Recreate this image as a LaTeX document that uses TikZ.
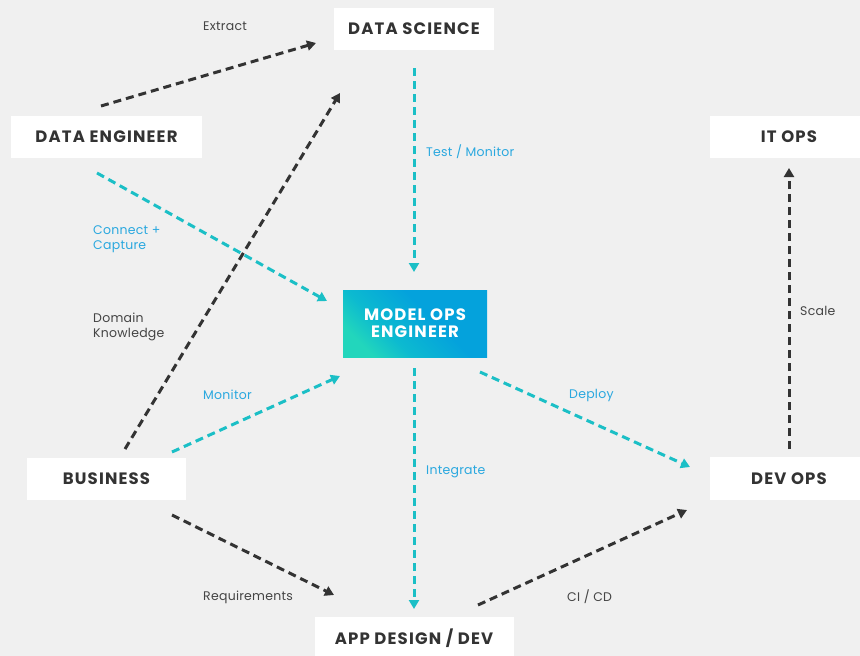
\documentclass[tikz,border=0pt]{standalone}
\usepackage{fontspec}
\setmainfont{Poppins}
\newfontfamily\boxfont[LetterSpace=7]{Poppins}
\newfontfamily\lblfont[LetterSpace=2]{Poppins}
\usetikzlibrary{arrows.meta}
\definecolor{bgc}{HTML}{F0F0F0}
\definecolor{darkc}{HTML}{333333}
\definecolor{lblc}{HTML}{444444}
\definecolor{tealc}{HTML}{1BBFC6}
\definecolor{bluec}{HTML}{2AA8DF}
\definecolor{gradA}{HTML}{22D6BC}
\definecolor{gradC}{HTML}{0CBAD0}
\definecolor{gradB}{HTML}{04A2DC}
\pgfdeclarehorizontalshading{mog}{100bp}{color(0bp)=(gradA); color(25bp)=(gradA); color(38bp)=(gradC); color(58bp)=(gradB); color(100bp)=(gradB)}
\begin{document}
\begin{tikzpicture}[x=1pt,y=-1pt,
  box/.style={fill=white,draw=none,inner sep=0pt,font=\boxfont\fontsize{16.5}{18}\selectfont\bfseries,text=darkc},
  lbl/.style={font=\lblfont\fontsize{12.5}{15.5}\selectfont,inner sep=0pt,anchor=west,align=left},
  darkarr/.style={draw=darkc,line width=3pt,dash pattern=on 8pt off 5pt,-{Triangle[length=9pt,width=10pt]}},
  tealarr/.style={draw=tealc,line width=3pt,dash pattern=on 8pt off 5pt,-{Triangle[length=9pt,width=10pt]}}]
\fill[bgc] (0,0) rectangle (860,656);
\useasboundingbox (0,0) rectangle (860,656);
% boxes
\node[box,minimum width=160pt,minimum height=42pt] (ds) at (414,29) {DATA SCIENCE};
\node[box,minimum width=191pt,minimum height=42pt] (de) at (106.5,137) {DATA ENGINEER};
\fill[white] (710,116) rectangle (868,158);
\node[box,fill=none] (it) at (789,137) {IT OPS};
\node[box,minimum width=159pt,minimum height=42pt] (bus) at (106.5,479) {BUSINESS};
\fill[white] (710,457) rectangle (868,500);
\node[box,fill=none] (dev) at (789,479) {DEV OPS};
\fill[white] (315,617) rectangle (514,660);
\node[box,fill=none] (app) at (414,638) {APP DESIGN / DEV};
\shade[shading=mog,shading angle=45] (343,290) rectangle (487,357);
\node[box,fill=none,text=white,align=center] (mo) at (415,323.5) {MODEL OPS\\[-1pt]ENGINEER};
% anchor coordinates
\coordinate (a1) at (101,106); \coordinate (b1) at (316,43);
\coordinate (a2) at (125,449); \coordinate (b2) at (340,93);
\coordinate (a3) at (97,173);  \coordinate (b3) at (327,301);
\coordinate (a4) at (414,68);  \coordinate (b4) at (414,272);
\coordinate (a5) at (172,452); \coordinate (b5) at (340,376);
\coordinate (a6) at (414,368); \coordinate (b6) at (414,609);
\coordinate (a7) at (480,372); \coordinate (b7) at (690,467);
\coordinate (a8) at (172,515); \coordinate (b8) at (334,595);
\coordinate (a9) at (478,605); \coordinate (b9) at (687,510);
\coordinate (a10) at (789,449); \coordinate (b10) at (789,168);
\draw[darkarr] (a1) -- (b1);
\draw[darkarr] (a2) -- (b2);
\draw[tealarr] (a3) -- (b3);
\draw[tealarr] (a4) -- (b4);
\draw[tealarr] (a5) -- (b5);
\draw[tealarr] (a6) -- (b6);
\draw[tealarr] (a7) -- (b7);
\draw[darkarr] (a8) -- (b8);
\draw[darkarr] (a9) -- (b9);
\draw[darkarr] (a10) -- (b10);
% labels
\node[lbl,text=lblc] (l1) at (203,26) {Extract};
\node[lbl,text=bluec] (l2) at (93,239) {Connect +\\Capture};
\node[lbl,text=lblc] (l3) at (93,327) {Domain\\Knowledge};
\node[lbl,text=bluec] (l4) at (203,395) {Monitor};
\node[lbl,text=bluec] (l5) at (426,152) {Test / Monitor};
\node[lbl,text=bluec] (l6) at (426,472) {Integrate};
\node[lbl,text=bluec] (l7) at (569,395) {Deploy};
\node[lbl,text=lblc] (l8) at (203,597) {Requirements};
\node[lbl,text=lblc] (l9) at (567,597) {CI / CD};
\node[lbl,text=lblc] (l10) at (800,311) {Scale};
\end{tikzpicture}
\end{document}
